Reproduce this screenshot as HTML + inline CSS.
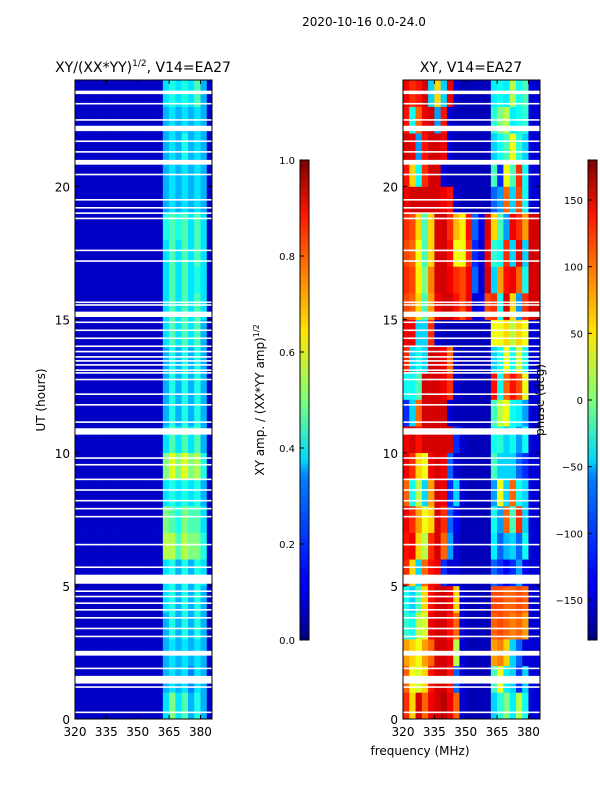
<!DOCTYPE html>
<html><head><meta charset="utf-8"><style>
body{margin:0;background:#fff;}
svg text{font-family:"DejaVu Sans","Liberation Sans",sans-serif;fill:#000;}
</style></head><body>
<svg id="fig" width="600" height="800" xmlns="http://www.w3.org/2000/svg">
<defs>
<linearGradient id="jet" x1="0" y1="1" x2="0" y2="0">
<stop offset="0" stop-color="#00007f"/><stop offset="0.11" stop-color="#0000ff"/><stop offset="0.125" stop-color="#0000ff"/>
<stop offset="0.34" stop-color="#0080ff"/><stop offset="0.375" stop-color="#00d8ff"/><stop offset="0.5" stop-color="#7dff7a"/>
<stop offset="0.64" stop-color="#ffe600"/><stop offset="0.75" stop-color="#ff8c00"/><stop offset="0.89" stop-color="#ff1300"/>
<stop offset="1" stop-color="#7f0000"/></linearGradient>
</defs>
<text x="364" y="26" font-size="12" text-anchor="middle">2020-10-16 0.0-24.0</text>
<text x="143" y="72" font-size="14" text-anchor="middle">XY/(XX*YY)<tspan font-size="9" dy="-6">1/2</tspan><tspan dy="6">, V14=EA27</tspan></text>
<text x="471" y="72" font-size="14" text-anchor="middle">XY, V14=EA27</text>
<g id="left"></g>
<g id="right"></g>
<text transform="translate(45,400) rotate(-90)" font-size="12" text-anchor="middle">UT (hours)</text>
<text x="420" y="755" font-size="12" text-anchor="middle">frequency (MHz)</text>
<rect x="300" y="160" width="9" height="480" fill="url(#jet)" stroke="#000" stroke-width="1"/>
<rect x="588" y="160" width="9" height="480" fill="url(#jet)" stroke="#000" stroke-width="1"/>
<text transform="translate(264,400) rotate(-90)" font-size="12" text-anchor="middle">XY amp. / (XX*YY amp)<tspan font-size="8" dy="-5">1/2</tspan></text>
<text transform="translate(544,400) rotate(-90)" font-size="12" text-anchor="middle">phase (deg)</text>
<g id="cb"></g>
</svg>
<script>
const freqEdges=[320,323,326,329,332,335,338,341,344,347,350,353,356,359,362,365,368,371,374,377,380,383,386];
const hours=[0,1,2,3,4,5,6,7,8,9,10,11,12,13,14,15,16,17,18,19,20,21,22,23];
const xTicks=[320,335,350,365,380];
const yTicks=[0,5,10,15,20];
const ampTicks=[0.0,0.2,0.4,0.6,0.8,1.0];
const phaseTicks=[-150,-100,-50,0,50,100,150];
const ampRows=[
[.07,.07,.07,.07,.07,.07,.07,.07,.07,.07,.07,.07,.07,.07,.35,.5,.35,.45,.3,.4,.3,.07],
[.07,.07,.07,.07,.07,.07,.07,.07,.07,.07,.07,.07,.07,.07,.3,.35,.3,.35,.25,.35,.3,.07],
[.07,.07,.07,.07,.07,.07,.07,.07,.07,.07,.07,.07,.07,.07,.3,.35,.3,.35,.3,.35,.3,.07],
[.07,.07,.07,.07,.07,.07,.07,.07,.07,.07,.07,.07,.07,.07,.3,.4,.3,.4,.3,.4,.3,.07],
[.07,.07,.07,.07,.07,.07,.07,.07,.07,.07,.07,.07,.07,.07,.35,.4,.3,.4,.3,.4,.3,.07],
[.07,.07,.07,.07,.07,.07,.07,.07,.07,.07,.07,.07,.07,.07,.35,.4,.3,.4,.3,.4,.35,.07],
[.07,.07,.07,.07,.07,.07,.07,.07,.07,.07,.07,.07,.07,.07,.55,.55,.45,.55,.5,.5,.4,.07],
[.07,.07,.07,.07,.07,.07,.07,.07,.07,.07,.07,.07,.07,.07,.5,.45,.4,.5,.45,.45,.35,.07],
[.07,.07,.07,.07,.07,.07,.07,.07,.07,.07,.07,.07,.07,.07,.35,.4,.35,.4,.35,.4,.3,.07],
[.07,.07,.07,.07,.07,.07,.07,.07,.07,.07,.07,.07,.07,.07,.5,.6,.5,.6,.5,.55,.4,.07],
[.07,.07,.07,.07,.07,.07,.07,.07,.07,.07,.07,.07,.07,.07,.35,.45,.35,.45,.35,.45,.3,.07],
[.07,.07,.07,.07,.07,.07,.07,.07,.07,.07,.07,.07,.07,.07,.3,.4,.3,.4,.3,.4,.3,.07],
[.07,.07,.07,.07,.07,.07,.07,.07,.07,.07,.07,.07,.07,.07,.3,.4,.3,.4,.3,.4,.3,.07],
[.07,.07,.07,.07,.07,.07,.07,.07,.07,.07,.07,.07,.07,.07,.3,.4,.3,.4,.3,.4,.3,.07],
[.07,.07,.07,.07,.07,.07,.07,.07,.07,.07,.07,.07,.07,.07,.35,.45,.35,.45,.35,.45,.3,.07],
[.07,.07,.07,.07,.07,.07,.07,.07,.07,.07,.07,.07,.07,.07,.35,.45,.35,.45,.35,.45,.35,.07],
[.07,.07,.07,.07,.07,.07,.07,.07,.07,.07,.07,.07,.07,.07,.35,.45,.35,.45,.35,.4,.35,.07],
[.07,.07,.07,.07,.07,.07,.07,.07,.07,.07,.07,.07,.07,.07,.35,.45,.35,.45,.35,.45,.35,.07],
[.07,.07,.07,.07,.07,.07,.07,.07,.07,.07,.07,.07,.07,.07,.4,.45,.4,.45,.35,.45,.35,.07],
[.07,.07,.07,.07,.07,.07,.07,.07,.07,.07,.07,.07,.07,.07,.3,.35,.3,.35,.3,.35,.3,.07],
[.07,.07,.07,.07,.07,.07,.07,.07,.07,.07,.07,.07,.07,.07,.3,.35,.3,.35,.3,.35,.3,.07],
[.07,.07,.07,.07,.07,.07,.07,.07,.07,.07,.07,.07,.07,.07,.3,.35,.3,.4,.3,.35,.3,.07],
[.07,.07,.07,.07,.07,.07,.07,.07,.07,.07,.07,.07,.07,.07,.3,.35,.3,.35,.3,.35,.3,.07],
[.07,.07,.07,.07,.07,.07,.07,.07,.07,.07,.07,.07,.07,.07,.35,.4,.35,.4,.35,.45,.3,.07]];
const phaseRows=[
[120,60,150,100,140,150,160,140,100,-150,-160,-160,-160,-160,-60,-30,0,-50,20,-40,-150,-150],
[100,40,30,60,130,150,150,130,-100,-150,-160,-160,-160,-160,-20,40,-50,-60,-120,-60,-150,-150],
[80,60,40,80,100,150,150,140,20,-150,-160,-160,-160,-160,80,90,60,-60,-100,-150,-150,-150],
[-30,-40,20,30,140,150,150,130,100,-150,-160,-160,-160,-160,100,110,100,90,100,80,-150,-150],
[-40,-60,-20,60,130,150,150,140,60,-150,-160,-160,-160,-160,110,110,100,100,110,100,-150,-150],
[120,60,-60,100,130,140,-120,-150,-150,-160,-160,-160,-160,-160,-100,-120,-140,-120,-80,-140,-150,-150],
[130,140,60,20,120,150,100,-80,-150,-160,-160,-160,-160,-160,-50,-100,-70,-60,-100,-40,-150,-150],
[140,120,80,40,60,150,120,-100,-140,-160,-160,-160,-160,-160,-40,-80,100,-20,120,-60,-150,-150],
[100,-40,20,-60,80,150,140,-120,-60,-150,-160,-160,-160,-160,-80,40,-60,100,-40,-60,-150,-150],
[140,120,60,40,140,150,140,-100,-150,-160,-160,-160,-160,-160,-20,-60,-60,-60,-100,-120,-150,-150],
[140,150,130,150,150,150,150,150,-120,-150,-160,-160,-160,-160,-40,-30,-60,-40,-80,-40,-150,-150],
[-120,-60,100,150,150,150,150,-150,-160,-160,-160,-160,-160,-160,-20,20,40,-40,-50,-80,-150,-150],
[-40,-40,-20,150,150,150,140,120,-150,-160,-160,-160,-160,-160,130,-40,100,130,110,40,-150,-150],
[120,-60,-40,-60,150,150,140,100,-150,-160,-160,-160,-160,-160,-60,-40,40,-40,30,-40,-150,-150],
[140,140,-60,-60,120,-150,-160,-160,-160,-160,-160,-160,-160,-160,40,40,60,20,60,40,-150,-150],
[110,100,60,-20,80,140,150,150,130,110,140,-150,-140,110,120,-40,150,60,-80,120,150,150],
[120,110,50,0,90,150,150,140,120,110,140,-100,-150,150,-60,80,130,140,100,-40,150,150],
[110,100,40,-20,60,150,150,130,40,40,120,-120,-150,140,-30,-40,120,-60,140,-60,150,150],
[120,110,60,-20,60,150,150,120,70,50,130,-100,-140,150,60,-20,-80,140,120,80,150,150],
[140,150,150,150,150,150,140,130,-150,-160,-160,-160,-160,-160,-100,-80,100,-60,110,-40,-150,-150],
[130,60,-40,120,150,150,-150,-160,-160,-160,-160,-160,-160,-160,-20,-120,40,-20,120,-40,-150,-150],
[150,140,-80,130,150,150,140,-150,-160,-160,-160,-160,-160,-160,-60,-40,-20,40,-30,-60,-150,-150],
[130,-40,100,140,150,-80,130,-150,-160,-160,-160,-160,-160,-160,-30,0,20,-50,-40,-30,-150,-150],
[140,120,130,150,-60,60,-60,140,-150,-160,-160,-160,-160,-160,-50,-40,-50,20,-40,-20,-150,-150]];
const gapStart=[23.47,23.08,22.47,22.08,21.67,21.27,20.82,20.42,19.47,19.17,18.97,18.77,17.57,17.17,15.62,15.52,15.1,14.87,14.57,14.27,13.97,13.77,13.57,13.42,13.27,13.07,12.97,12.72,12.17,11.77,11.12,10.68,9.77,9.52,8.97,8.57,8.17,7.87,7.57,6.52,5.67,5.08,4.77,4.57,4.32,4.07,3.77,3.37,3.07,2.38,1.87,1.33,1.17,0.22];
const gapEnd=[23.6,23.14,22.53,22.28,21.73,21.33,21.0,20.48,19.53,19.23,19.03,18.83,17.63,17.23,15.68,15.58,15.3,14.93,14.63,14.33,14.03,13.83,13.63,13.48,13.33,13.13,13.03,12.78,12.23,11.83,11.18,10.92,9.83,9.58,9.03,8.63,8.23,7.93,7.63,6.58,5.73,5.42,4.83,4.63,4.38,4.13,3.83,3.43,3.13,2.56,1.93,1.62,1.23,0.28];

const NS="http://www.w3.org/2000/svg";
const FMIN=320,FMAX=385.5,PW=137,Y0=80,PH=639;
function xs(f,x0){return x0+(Math.min(f,FMAX)-FMIN)*PW/(FMAX-FMIN);}
function ys(h){return Y0+PH-h*PH/24;}
function jet(t){t=Math.max(0,Math.min(1,t));const c=v=>Math.round(255*Math.max(0,Math.min(1,v)));
return `rgb(${c(1.5-Math.abs(4*t-3))},${c(1.5-Math.abs(4*t-2))},${c(1.5-Math.abs(4*t-1))})`;}
function mk(tag,attrs,parent){const e=document.createElementNS(NS,tag);for(const k in attrs)e.setAttribute(k,attrs[k]);parent.appendChild(e);return e;}
function panel(g,x0,rows,norm,pname){
  rows.forEach((row,ri)=>{row.forEach((v,ci)=>{
    const xa=xs(freqEdges[ci],x0),xb=xs(freqEdges[ci+1],x0);
    const r=mk('rect',{x:xa,y:ys(hours[ri]+1),width:Math.max(0,xb-xa)+0.3,height:PH/24+0.3,fill:jet(norm(v))},g);
    
    
  });});
  gapStart.forEach((s,i)=>{
    const r=mk('rect',{x:x0,y:ys(gapEnd[i]),width:PW,height:Math.max(1.2,ys(s)-ys(gapEnd[i])),fill:'#fff'},g);
    
    
  });
  const fr=mk('rect',{x:x0,y:Y0,width:PW,height:PH,fill:'none',stroke:'#000','stroke-width':1},g);
  
  
  xTicks.forEach(t=>{const x=xs(t,x0);
    mk('line',{x1:x,x2:x,y1:Y0+PH,y2:Y0+PH-4,stroke:'#000'},g);
    mk('line',{x1:x,x2:x,y1:Y0,y2:Y0+4,stroke:'#000'},g);
    const tx=mk('text',{x:x,y:Y0+PH+17,'font-size':12,'text-anchor':'middle'},g);tx.textContent=t;
    
    });
  yTicks.forEach(t=>{const y=ys(t);
    mk('line',{x1:x0,x2:x0+4,y1:y,y2:y,stroke:'#000'},g);
    mk('line',{x1:x0+PW,x2:x0+PW-4,y1:y,y2:y,stroke:'#000'},g);
    const tx=mk('text',{x:x0-5,y:y+5,'font-size':12,'text-anchor':'end'},g);tx.textContent=t;
    
    });
}
panel(document.getElementById('left'),75,ampRows,v=>v,'amplitude');
panel(document.getElementById('right'),403,phaseRows,v=>(v+180)/360,'phase');
const cb=document.getElementById('cb');
ampTicks.forEach(t=>{const y=640-t*480;
  mk('line',{x1:300,x2:304,y1:y,y2:y,stroke:'#000'},cb);
  const tx=mk('text',{x:295,y:y+4,'font-size':10,'text-anchor':'end'},cb);tx.textContent=t.toFixed(1);
  
  });
phaseTicks.forEach(t=>{const y=400-t*480/360;
  mk('line',{x1:588,x2:592,y1:y,y2:y,stroke:'#000'},cb);
  const tx=mk('text',{x:583,y:y+4,'font-size':10,'text-anchor':'end'},cb);tx.textContent=t<0?'\u2212'+(-t):t;
  
  });
</script>
</body></html>
